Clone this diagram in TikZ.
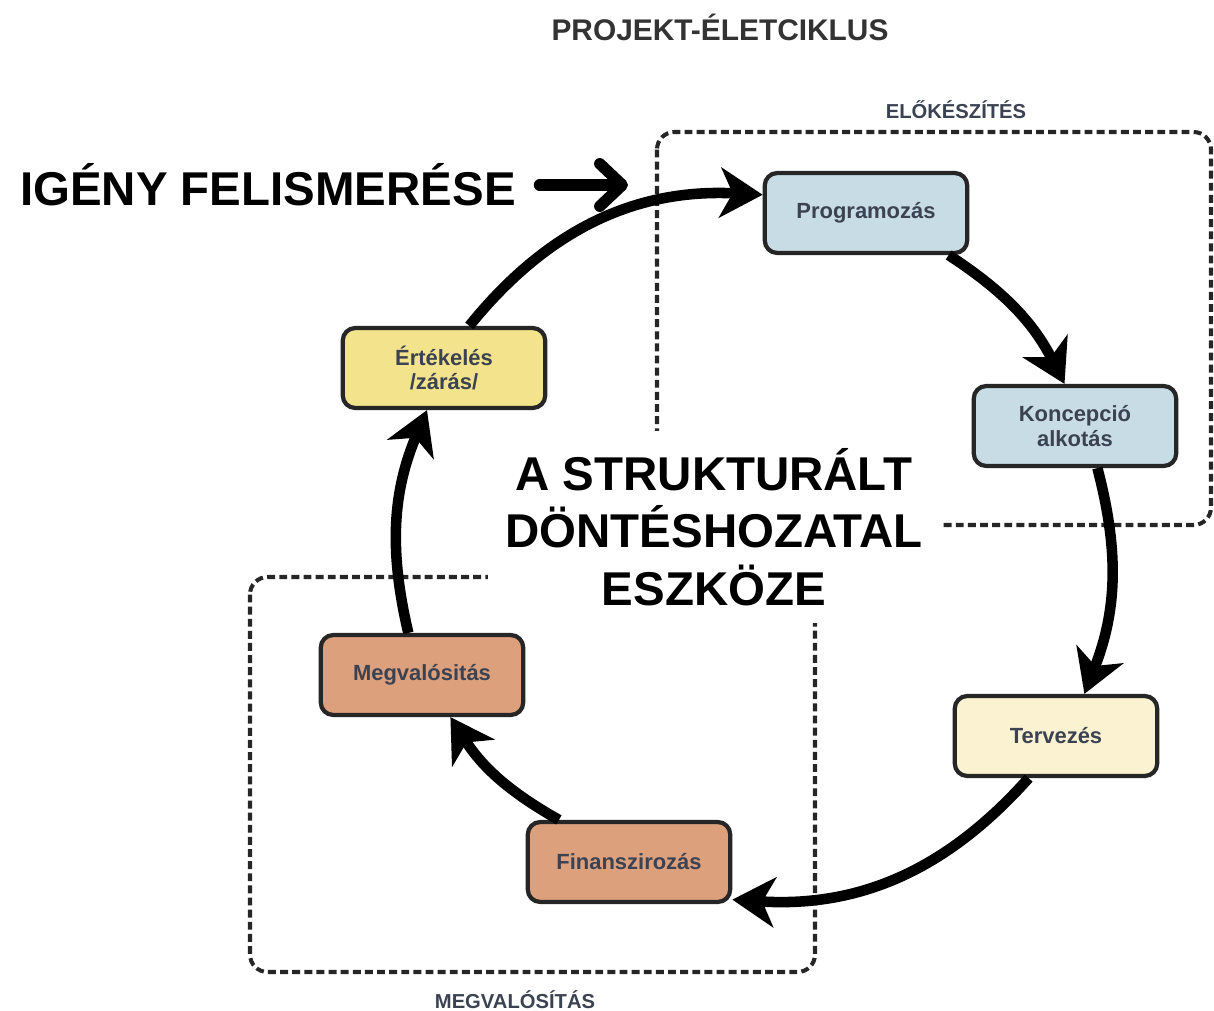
\documentclass[tikz,border=0pt]{standalone}
\usepackage{fontspec}
\setmainfont{Liberation Sans}
\usetikzlibrary{arrows.meta}

\definecolor{progblue}{HTML}{C8DCE6}
\definecolor{evalyellow}{HTML}{F2E38C}
\definecolor{plancream}{HTML}{FAF2D0}
\definecolor{realorange}{HTML}{DCA07C}
\definecolor{boxtext}{HTML}{3B4252}
\definecolor{phasegray}{HTML}{262626}

\begin{document}
\begin{tikzpicture}[
        x=0.02cm, y=-0.02cm,
        phase/.style={draw=phasegray, line width=2.3pt, dash pattern=on 4.5pt off 2.4pt, rounded corners=0.35cm},
        phaselabel/.style={text=boxtext, font=\bfseries\fontsize{11.5}{13}\selectfont},
        stage/.style={draw=black!85, line width=2.4pt, rounded corners=0.25cm, minimum width=4.05cm, minimum height=1.6cm, align=center, text=boxtext, font=\bfseries\fontsize{12.5}{14}\selectfont},
        flow/.style={line width=6pt, -{Stealth[length=0.85cm, width=1cm, inset=0.25cm]}},
        bigtext/.style={font=\bfseries\fontsize{27}{32.6}\selectfont, align=center},
    ]
    \useasboundingbox (0,0) rectangle (1214,1011);

    % phases
    \draw[phase] (657,132) rectangle (1211,525);
    \draw[phase] (250,577) rectangle (815,972);
    \node[phaselabel] (elok) at (956,110) {ELŐKÉSZÍTÉS};
    \node[phaselabel] (megvl) at (515,1000) {MEGVALÓSÍTÁS};
    \node[font=\bfseries\fontsize{17}{20}\selectfont, text=black!80] (title) at (720,27) {PROJEKT-ÉLETCIKLUS};

    \node[bigtext, fill=white, inner sep=10pt] (tool) at (714,527) {A STRUKTURÁLT\\DÖNTÉSHOZATAL\\ESZKÖZE};

    % stages
    \node[stage, fill=progblue] (prog) at (866,213) {Programozás};
    \node[stage, fill=progblue] (konc) at (1075,426) {Koncepció\\alkotás};
    \node[stage, fill=plancream] (terv) at (1056,736) {Tervezés};
    \node[stage, fill=realorange] (fin) at (629,862) {Finanszirozás};
    \node[stage, fill=realorange] (megv) at (422,675) {Megvalósitás};
    \node[stage, fill=evalyellow] (ert) at (444,368) {Értékelés\\/zárás/};

    \draw[flow] (ert.59) to[bend left=27] (prog.170);
    \draw[flow] (prog.-27) to[bend left=15] (konc.104);
    \draw[flow] (konc.-62) to[bend left=18] (terv.56);
    \draw[flow] (terv.-123) to[bend left=26] (fin.-20);
    \draw[flow] (fin.149) to[bend left=14] (megv.-56);
    \draw[flow] (megv.108) to[bend left=18] (ert.-112);

    % need
    \node[bigtext] (igeny) at (268,185) {IGÉNY FELISMERÉSE};
    \coordinate (igend) at (628,185);
    \draw[line width=6.5pt, line cap=round, shorten <=10pt, -{Straight Barb[round, length=0.45cm, width=0.85cm]}] (igeny.east) -- (igend);
\end{tikzpicture}
\end{document}
